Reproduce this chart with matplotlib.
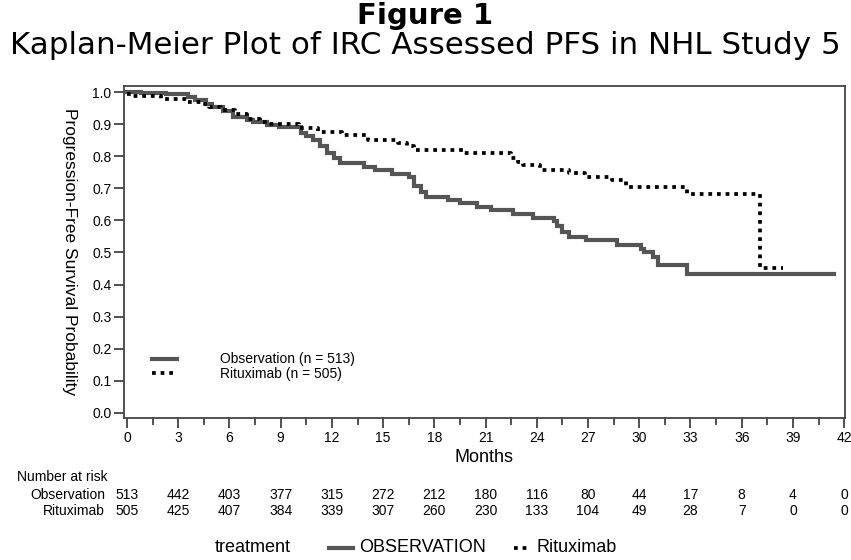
import matplotlib
matplotlib.use("Agg")
import matplotlib.pyplot as plt
import matplotlib.transforms as mtransforms
from matplotlib.lines import Line2D

# Kaplan-Meier step points (month, survival)
obs_t = [0, 0.8, 2.3, 3.6, 4.0, 4.6, 5.0, 5.6, 6.2, 7.0, 7.4, 8.2, 8.9, 10.2, 10.5,
         10.9, 11.3, 11.7, 12.1, 12.5, 13.9, 14.5, 15.5, 16.5, 16.8, 17.2, 17.5,
         18.8, 19.5, 20.5, 21.3, 22.6, 23.8, 25.0, 25.2, 25.5, 25.9, 26.9, 28.7,
         30.1, 30.3, 30.8, 31.1, 32.8, 41.4]
obs_s = [1.0, 0.998, 0.994, 0.984, 0.975, 0.963, 0.953, 0.942, 0.922, 0.912, 0.905,
         0.897, 0.89, 0.872, 0.862, 0.85, 0.832, 0.81, 0.795, 0.779, 0.765, 0.757,
         0.745, 0.736, 0.707, 0.69, 0.674, 0.662, 0.655, 0.643, 0.632, 0.62, 0.607,
         0.597, 0.582, 0.565, 0.549, 0.539, 0.523, 0.51, 0.50, 0.487, 0.461, 0.433,
         0.433]

rit_t = [0, 0.3, 2.0, 3.6, 4.4, 4.8, 5.5, 6.3, 7.0, 7.8, 8.2, 10.1, 11.2, 12.6,
         14.1, 15.9, 16.4, 16.8, 19.7, 22.5, 22.9, 23.2, 24.2, 25.9, 26.8, 28.4,
         29.2, 32.8, 37.1, 38.4]
rit_s = [0.995, 0.989, 0.978, 0.969, 0.963, 0.953, 0.945, 0.93, 0.915, 0.905, 0.90,
         0.887, 0.876, 0.866, 0.850, 0.842, 0.832, 0.819, 0.811, 0.795, 0.783,
         0.773, 0.757, 0.749, 0.736, 0.726, 0.705, 0.681, 0.451, 0.451]

risk_months = [0, 3, 6, 9, 12, 15, 18, 21, 24, 27, 30, 33, 36, 39, 42]
risk_obs = [513, 442, 403, 377, 315, 272, 212, 180, 116, 80, 44, 17, 8, 4, 0]
risk_rit = [505, 425, 407, 384, 339, 307, 260, 230, 133, 104, 49, 28, 7, 0, 0]

obs_color = '#555555'
dot_style = (0, (1, 1.3))
dot_lw = 2.7

plt.rcParams['font.family'] = ['Liberation Sans', 'DejaVu Sans']

fig = plt.figure(figsize=(8.51, 5.6), dpi=100)
ax = fig.add_axes([124 / 851, 1 - 418 / 560, (845 - 124) / 851, (418 - 86) / 560])

ax.step(obs_t, obs_s, where='post', color=obs_color, lw=3.0, solid_joinstyle='miter')
ax.step(rit_t, rit_s, where='post', color='black', lw=dot_lw, linestyle=dot_style,
        dash_capstyle='butt')

ax.set_xlim(-0.175, 42.05)
ax.set_ylim(-0.0156, 1.0187)
ax.set_xticks(range(0, 43, 3))
ax.set_xticks([x * 1.5 for x in range(0, 29)], minor=True)
ax.set_yticks([i / 10 for i in range(11)])
ax.set_yticklabels([f'{i / 10:.1f}' for i in range(11)])
ax.tick_params(axis='both', which='major', length=7, width=1.2, labelsize=10,
               color='#333333', pad=2)
ax.tick_params(axis='x', which='minor', length=5, width=1.2, color='#333333')
for sp in ax.spines.values():
    sp.set_color('#444444')
    sp.set_linewidth(1.3)

ax.set_xlabel('Months', fontsize=13, labelpad=3)
ax.set_ylabel('Progression-Free Survival Probability', fontsize=12.5, rotation=270,
              va='center')
ax.yaxis.set_label_coords(-0.0756, 0.5)

# legend inside the plot
leg_handles = [Line2D([], [], color=obs_color, lw=3.0),
               Line2D([], [], color='black', lw=dot_lw, linestyle=dot_style,
                      dash_capstyle='butt')]
ax.legend(leg_handles, ['Observation (n = 513)', 'Rituximab (n = 505)'],
          loc='lower left', bbox_to_anchor=(0.029, 0.09), frameon=False,
          fontsize=10, handlelength=1.8, handletextpad=3.1, labelspacing=0.05,
          borderpad=0)

fig.text(0.5, 1 - 16 / 560, 'Figure 1', ha='center', va='center', fontsize=21,
         fontweight='bold', family='DejaVu Sans')
fig.text(0.5, 1 - 46 / 560, 'Kaplan-Meier Plot of IRC Assessed PFS in NHL Study 5',
         ha='center', va='center', fontsize=22.3, family='DejaVu Sans')

# number at risk table
trans = mtransforms.blended_transform_factory(ax.transData, fig.transFigure)
fig.text(17 / 851, 1 - 477 / 560, 'Number at risk', ha='left', va='center', fontsize=10)
fig.text(105 / 851, 1 - 495 / 560, 'Observation', ha='right', va='center', fontsize=10)
fig.text(105 / 851, 1 - 511 / 560, 'Rituximab', ha='right', va='center', fontsize=10)
for m, a, b in zip(risk_months, risk_obs, risk_rit):
    ax.text(m, 1 - 495 / 560, str(a), transform=trans, ha='center', va='center',
            fontsize=10, clip_on=False)
    ax.text(m, 1 - 511 / 560, str(b), transform=trans, ha='center', va='center',
            fontsize=10, clip_on=False)

# bottom legend
fy = 1 - 548 / 560
fig.text(215 / 851, fy, 'treatment', ha='left', va='center', fontsize=13)
fig.add_artist(Line2D([329 / 851, 353 / 851], [fy, fy], color=obs_color, lw=3.0))
fig.text(359 / 851, fy, 'OBSERVATION', ha='left', va='center', fontsize=13)
fig.add_artist(Line2D([514 / 851, 530 / 851], [fy, fy], color='black', lw=dot_lw,
                      linestyle=dot_style, dash_capstyle='butt'))
fig.text(537 / 851, fy, 'Rituximab', ha='left', va='center', fontsize=13)

fig.savefig('out.png', dpi=100)
